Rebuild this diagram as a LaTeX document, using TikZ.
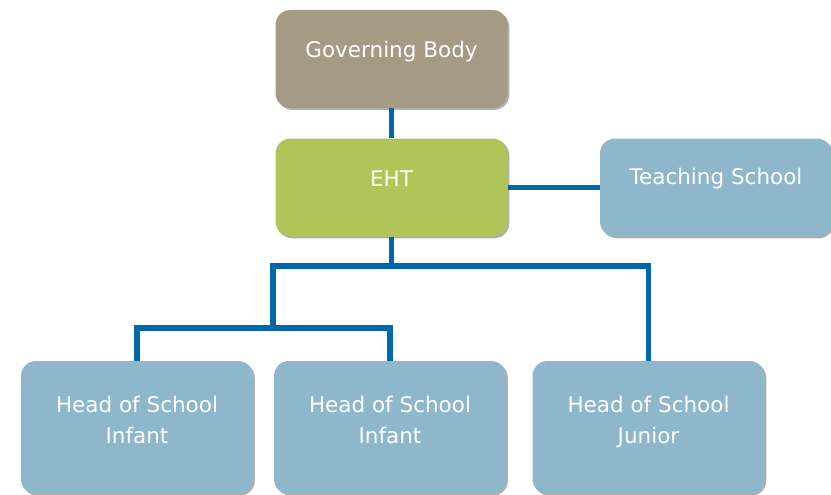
\documentclass[tikz,border=0pt]{standalone}
\usepackage{fontspec}
\setmainfont{DejaVu Sans}
\usetikzlibrary{shadows, positioning}
\definecolor{govbrown}{RGB}{165,154,131}
\definecolor{ehtgreen}{RGB}{175,197,88}
\definecolor{schoolblue}{RGB}{142,183,203}
\definecolor{linkblue}{RGB}{0,104,170}

\begin{document}
\begin{tikzpicture}[x=1pt, y=-1pt,
    box/.style={rounded corners=15pt, minimum width=232pt, minimum height=98pt,
        drop shadow={shadow xshift=1.8pt, shadow yshift=-1.8pt, fill=black!45, opacity=0.7}},
    tallbox/.style={box, minimum height=133pt},
    boxtext/.style={text=white, font=\fontsize{21.5}{31}\selectfont, align=center},
    link/.style={draw=linkblue, line width=5.5pt}]
    \useasboundingbox (0,0) rectangle (831,495);

    % Boxes
    \node[box, fill=govbrown, label={[boxtext, yshift=7pt]center:Governing Body}] at (391.5,59) (gov) {};
    \node[box, fill=ehtgreen, label={[boxtext, yshift=9pt]center:EHT}] at (391.5,187.5) (eht) {};
    \node[box, fill=schoolblue, label={[boxtext, yshift=9pt]center:Teaching School}] at (716,187.5) (teach) {};
    \node[tallbox, fill=schoolblue, label={[boxtext, yshift=8pt]center:Head of School\\Infant}] at (137,427.5) (infantA) {};
    \node[tallbox, fill=schoolblue, label={[boxtext, yshift=8pt]center:Head of School\\Infant}] at (390,427.5) (infantB) {};
    \node[tallbox, fill=schoolblue, label={[boxtext, yshift=6pt]center:Head of School\\Junior}] at (648.5,427.5) (junior) {};

    % Connectors
    \coordinate (split) at (273,266);
    \coordinate (subsplit) at (273,328);
    \draw[link] (gov.south) -- (eht.north);
    \draw[link] (eht.east) -- (teach.west);
    \draw[link] (eht.south) -- (eht.south |- split);
    \draw[link] (subsplit) -- (split) -| (junior.north);
    \draw[link] (infantA.north) |- (subsplit) -| (infantB.north);
\end{tikzpicture}
\end{document}
